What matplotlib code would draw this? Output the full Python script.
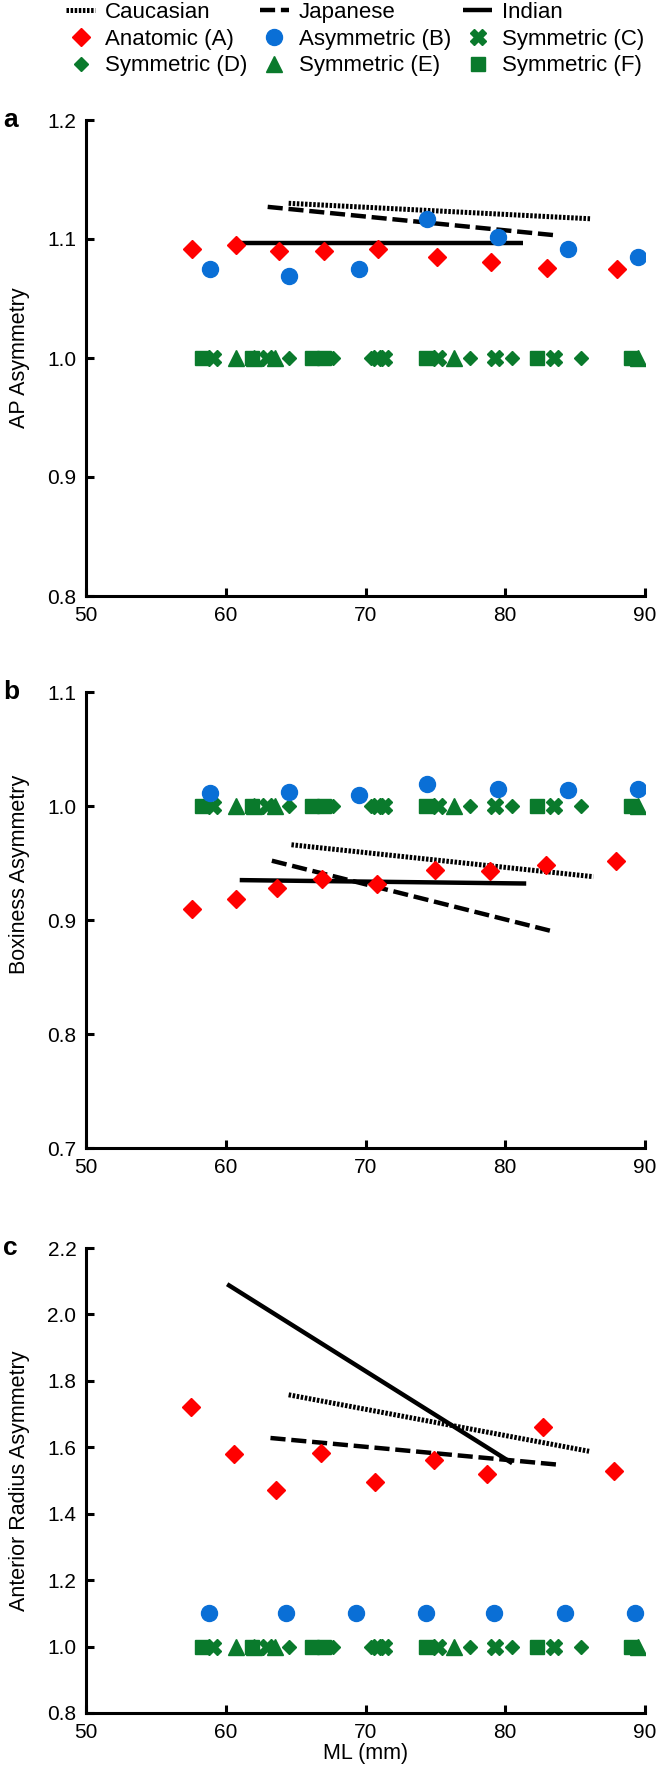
import matplotlib
matplotlib.use("Agg")
import matplotlib.pyplot as plt

plt.rcParams['font.family'] = ['Liberation Sans', 'DejaVu Sans']

# ---------------- data ----------------
# Anatomic (A)
anat_x_a = [57.6, 60.7, 63.8, 67.0, 70.9, 75.1, 79.0, 83.0, 88.0]
anat_y_a = [1.092, 1.095, 1.090, 1.090, 1.092, 1.085, 1.081, 1.076, 1.075]
anat_x_b = [57.6, 60.7, 63.7, 66.9, 70.8, 75.0, 78.9, 82.9, 87.9]
anat_y_b = [0.910, 0.918, 0.928, 0.936, 0.932, 0.944, 0.943, 0.948, 0.952]
anat_x_c = [57.5, 60.6, 63.6, 66.8, 70.7, 74.9, 78.7, 82.7, 87.8]
anat_y_c = [1.720, 1.580, 1.472, 1.582, 1.495, 1.562, 1.520, 1.662, 1.528]

# Asymmetric (B)
asym_x = [58.9, 64.5, 69.5, 74.4, 79.5, 84.5, 89.5]
asym_y_a = [1.075, 1.069, 1.075, 1.117, 1.102, 1.092, 1.085]
asym_y_b = [1.011, 1.012, 1.010, 1.019, 1.015, 1.014, 1.015]
asym_x_c = [58.8, 64.3, 69.3, 74.3, 79.2, 84.3, 89.3]
asym_y_c = [1.100, 1.100, 1.100, 1.100, 1.100, 1.100, 1.100]

# Symmetric designs (same in all three panels)
sym_c_x = [59.1, 62.95, 70.9, 71.3, 75.2, 79.3, 83.5]
sym_c_y = [1.0, 1.0, 1.0, 1.0, 1.0, 1.0, 1.0]
sym_d_x = [64.5, 67.7, 70.4, 77.5, 80.5, 85.4]
sym_d_y = [1.0, 1.0, 1.0, 1.0, 1.0, 1.0]
sym_e_x = [60.75, 62.0, 63.5, 76.3, 89.5]
sym_e_y = [1.0, 1.0, 1.0, 1.0, 1.0]
sym_f_x = [58.3, 61.9, 66.2, 67.0, 74.3, 82.3, 89.0]
sym_f_y = [1.0, 1.0, 1.0, 1.0, 1.0, 1.0, 1.0]

# Population regression lines (x start/end, y start/end)
cauc_x_a = [64.5, 86.1]; cauc_y_a = [1.130, 1.117]
jap_x_a = [63.0, 83.7];  jap_y_a = [1.127, 1.103]
ind_x_a = [61.0, 81.3];  ind_y_a = [1.097, 1.097]

cauc_x_b = [64.7, 86.3]; cauc_y_b = [0.966, 0.938]
jap_x_b = [63.3, 83.4];  jap_y_b = [0.952, 0.890]
ind_x_b = [61.0, 81.5];  ind_y_b = [0.935, 0.932]

cauc_x_c = [64.5, 86.0]; cauc_y_c = [1.758, 1.588]
jap_x_c = [63.2, 83.7];  jap_y_c = [1.628, 1.548]
ind_x_c = [60.1, 80.5];  ind_y_c = [2.091, 1.552]

x_ticks = [50, 60, 70, 80, 90]
y_ticks_a = [0.8, 0.9, 1.0, 1.1, 1.2]
y_ticks_b = [0.7, 0.8, 0.9, 1.0, 1.1]
y_ticks_c = [0.8, 1.0, 1.2, 1.4, 1.6, 1.8, 2.0, 2.2]

# ---------------- style ----------------
RED = '#FF0000'
BLUE = '#0A6FD6'
GREEN = '#0A7A2C'
LW = 3.2
cauc_ls = (0, (0.5, 0.32))
jap_ls = (0, (3.4, 1.3))
FS = 15

W, H = 661, 1770
fig = plt.figure(figsize=(W / 100, H / 100), dpi=100)

def axes_px(left, top, right, bottom):
    return fig.add_axes([left / W, 1 - bottom / H, (right - left) / W, (bottom - top) / H])

ax_a = axes_px(86, 120, 645, 596)
ax_b = axes_px(86, 692, 645, 1148)
ax_c = axes_px(86, 1248, 645, 1713)

panels = [
    (ax_a, 'a', 'AP Asymmetry', y_ticks_a, anat_x_a, anat_y_a, asym_x, asym_y_a,
     (cauc_x_a, cauc_y_a), (jap_x_a, jap_y_a), (ind_x_a, ind_y_a), 0.5),
    (ax_b, 'b', 'Boxiness Asymmetry', y_ticks_b, anat_x_b, anat_y_b, asym_x, asym_y_b,
     (cauc_x_b, cauc_y_b), (jap_x_b, jap_y_b), (ind_x_b, ind_y_b), 0.6),
    (ax_c, 'c', 'Anterior Radius Asymmetry', y_ticks_c, anat_x_c, anat_y_c, asym_x_c, asym_y_c,
     (cauc_x_c, cauc_y_c), (jap_x_c, jap_y_c), (ind_x_c, ind_y_c), 0.5),
]

handles = {}
for (ax, letter, ylab, yt, ax_x, ax_y, bx, by, cau, jap, ind, ylab_pos) in panels:
    handles['cauc'], = ax.plot(cau[0], cau[1], color='black', lw=LW + 0.4, linestyle=cauc_ls,
                               dash_capstyle='butt', zorder=2)
    handles['jap'], = ax.plot(jap[0], jap[1], color='black', lw=LW, linestyle=jap_ls,
                              dash_capstyle='butt', zorder=2)
    handles['ind'], = ax.plot(ind[0], ind[1], color='black', lw=LW, linestyle='-',
                              solid_capstyle='butt', zorder=2)
    handles['C'], = ax.plot(sym_c_x, sym_c_y, linestyle='none', marker='X', ms=11,
                            color=GREEN, mec=GREEN, zorder=3)
    handles['D'], = ax.plot(sym_d_x, sym_d_y, linestyle='none', marker='D', ms=7,
                            color=GREEN, mec=GREEN, zorder=3)
    handles['E'], = ax.plot(sym_e_x, sym_e_y, linestyle='none', marker='^', ms=11,
                            color=GREEN, mec=GREEN, zorder=3)
    handles['F'], = ax.plot(sym_f_x, sym_f_y, linestyle='none', marker='s', ms=10.5,
                            color=GREEN, mec=GREEN, zorder=3)
    handles['B'], = ax.plot(bx, by, linestyle='none', marker='o', ms=11.5,
                            color=BLUE, mec=BLUE, zorder=4)
    handles['A'], = ax.plot(ax_x, ax_y, linestyle='none', marker='D', ms=9,
                            color=RED, mec=RED, zorder=4)

    ax.set_xlim(x_ticks[0], x_ticks[-1])
    ax.set_ylim(yt[0], yt[-1])
    ax.set_xticks(x_ticks)
    ax.set_xticklabels([str(v) for v in x_ticks])
    ax.set_yticks(yt)
    ax.set_yticklabels(['{:.1f}'.format(v) for v in yt])
    for s in ['top', 'right']:
        ax.spines[s].set_visible(False)
    for s in ['left', 'bottom']:
        ax.spines[s].set_linewidth(2.2)
        ax.spines[s].set_capstyle('projecting')
    ax.tick_params(direction='in', length=6, width=2.2, labelsize=FS, pad=7)
    ax.set_ylabel(ylab, fontsize=FS + 0.5)
    ax.yaxis.set_label_coords(-0.1, ylab_pos)
    ax.text(-0.148, 1.0, letter, transform=ax.transAxes, fontsize=19,
            fontweight='bold', va='center', ha='left')
    ax.patch.set_visible(False)

ax_c.set_xlabel('ML (mm)', fontsize=FS + 0.5, labelpad=1)

order = ['cauc', 'A', 'D', 'jap', 'B', 'E', 'ind', 'C', 'F']
labels = {'cauc': 'Caucasian', 'jap': 'Japanese', 'ind': 'Indian',
          'A': 'Anatomic (A)', 'B': 'Asymmetric (B)', 'C': 'Symmetric (C)',
          'D': 'Symmetric (D)', 'E': 'Symmetric (E)', 'F': 'Symmetric (F)'}
fig.legend([handles[k] for k in order], [labels[k] for k in order], ncol=3,
           loc='upper left', bbox_to_anchor=(64 / W, 1 - 0 / H), frameon=False,
           fontsize=16, handlelength=1.3, handletextpad=0.45, columnspacing=0.55,
           labelspacing=0.25, borderaxespad=0.0, borderpad=0.1)

fig.savefig('out.png', dpi=100)
